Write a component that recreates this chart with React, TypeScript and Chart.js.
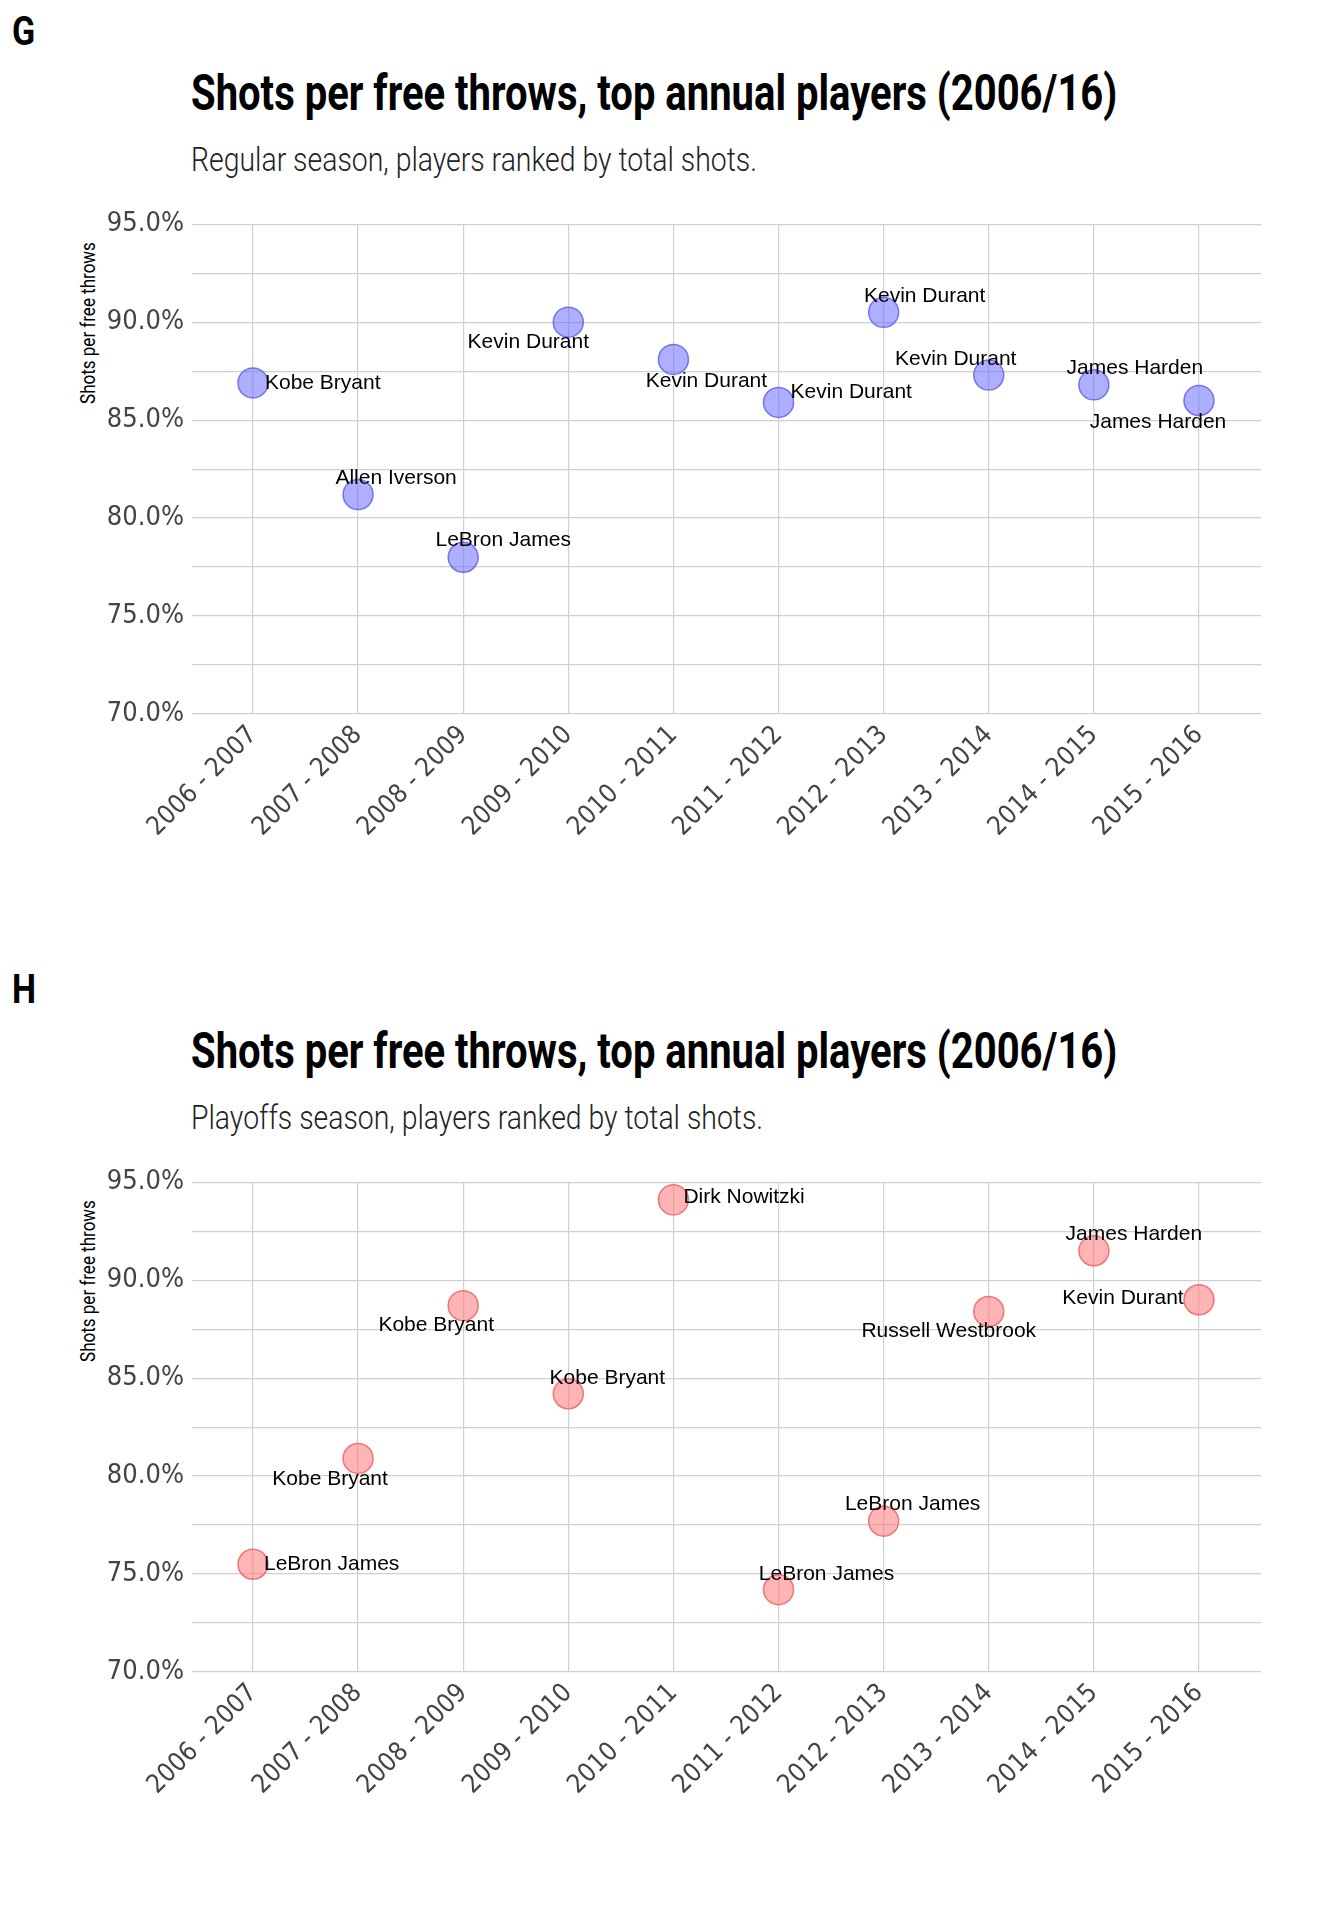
import React, { useEffect, useRef } from "react";
import { Chart, registerables } from "chart.js";
Chart.register(...registerables);

const seasons = ["2006 - 2007","2007 - 2008","2008 - 2009","2009 - 2010","2010 - 2011","2011 - 2012","2012 - 2013","2013 - 2014","2014 - 2015","2015 - 2016"];
const regularValues = [86.9, 81.2, 78.0, 90.0, 88.1, 85.9, 90.5, 87.3, 86.8, 86.0];
const regularPlayers = ["Kobe Bryant","Allen Iverson","LeBron James","Kevin Durant","Kevin Durant","Kevin Durant","Kevin Durant","Kevin Durant","James Harden","James Harden"];
const playoffValues = [75.5, 80.9, 88.7, 84.2, 94.1, 74.2, 77.7, 88.4, 91.5, 89.0];
const playoffPlayers = ["LeBron James","Kobe Bryant","Kobe Bryant","Kobe Bryant","Dirk Nowitzki","LeBron James","LeBron James","Russell Westbrook","James Harden","Kevin Durant"];
const yTicks = [70, 75, 80, 85, 90, 95];

// label placement (style): [dx, dy, align]
const regularLabelPos: [number, number, CanvasTextAlign][] = [
  [12, 0, "left"], [38, -16, "center"], [40, -17, "center"], [-40, 20, "center"], [33, 22, "center"],
  [12, -10, "left"], [41, -16, "center"], [-33, -16, "center"], [41, -17, "center"], [-41, 22, "center"],
];
const playoffLabelPos: [number, number, CanvasTextAlign][] = [
  [11, 0, "left"], [-28, 21, "center"], [-27, 20, "center"], [39, -16, "center"], [10, -3, "left"],
  [48, -16, "center"], [29, -17, "center"], [-40, 20, "center"], [40, -17, "center"], [-76, -2, "center"],
];

const condensed = "'DejaVu Sans Condensed','Roboto',sans-serif";

function Panel(props: { letter: string; subtitle: string; values: number[]; players: string[]; pos: [number, number, CanvasTextAlign][]; fill: string; border: string }) {
  const ref = useRef<HTMLCanvasElement>(null);
  useEffect(() => {
    const labelPlugin = {
      id: "lbl",
      afterDatasetsDraw(chart: any) {
        const ctx = chart.ctx;
        const meta = chart.getDatasetMeta(0);
        ctx.save();
        ctx.font = "21px 'Liberation Sans', Arial, sans-serif";
        ctx.fillStyle = "#000";
        ctx.textBaseline = "middle";
        meta.data.forEach((pt: any, i: number) => {
          const [dx, dy, al] = props.pos[i];
          ctx.textAlign = al;
          ctx.fillText(props.players[i], pt.x + dx, pt.y + dy);
        });
        ctx.restore();
      },
    };
    const chart = new Chart(ref.current!, {
      type: "scatter",
      data: {
        datasets: [{
          data: props.values.map((v, i) => ({ x: i, y: v })),
          backgroundColor: props.fill,
          borderColor: props.border,
          borderWidth: 1.5,
          pointRadius: 15,
          pointHoverRadius: 15,
        }],
      },
      options: {
        animation: false,
        responsive: false,
        layout: { padding: { left: 0, right: 83, top: 24, bottom: 0 } },
        plugins: { legend: { display: false }, tooltip: { enabled: false } },
        scales: {
          x: {
            type: "linear", min: -0.58, max: 9.59,
            afterFit: (s: any) => { s.height = 146; },
            afterBuildTicks: (s: any) => { s.ticks = seasons.map((_, i) => ({ value: i })); },
            ticks: {
              callback: (v: any) => seasons[v] ?? "",
              maxRotation: 45, minRotation: 45, autoSkip: false,
              color: "#444", font: { family: condensed, size: 26 }, padding: 6,
            },
            grid: { color: "#d0d0d0", lineWidth: 1.2, drawTicks: false },
            border: { display: false },
          },
          y: {
            min: 70, max: 95,
            afterFit: (s: any) => { s.width = 192; },
            afterBuildTicks: (s: any) => { s.ticks = [70,72.5,75,77.5,80,82.5,85,87.5,90,92.5,95].map(v => ({ value: v })); },
            ticks: {
              callback: (v: any) => (yTicks.includes(v) ? v.toFixed(1) + "%" : ""),
              color: "#444", font: { family: condensed, size: 27 }, padding: 8,
            },
            grid: { color: "#d0d0d0", lineWidth: 1.2, drawTicks: false },
            border: { display: false },
          },
        },
      },
      plugins: [labelPlugin],
    } as any);
    return () => chart.destroy();
  }, []);
  return (
    <div style={{ position: "relative", width: 1344, height: 958 }}>
      <div style={{ position: "absolute", left: 12, top: 8, fontFamily: "Roboto", fontWeight: 700, fontSize: 40, transform: "scaleX(0.85)", transformOrigin: "left" }}>{props.letter}</div>
      <div style={{ position: "absolute", left: 191, top: 64, fontFamily: "Roboto", fontWeight: 700, fontSize: 50, whiteSpace: "nowrap", transform: "scaleX(0.8)", transformOrigin: "left" }}>Shots per free throws, top annual players (2006/16)</div>
      <div style={{ position: "absolute", left: 191, top: 140, fontFamily: "Roboto", fontWeight: 300, fontSize: 33, color: "#222", whiteSpace: "nowrap", transform: "scaleX(0.86)", transformOrigin: "left" }}>{props.subtitle}</div>
      <div style={{ position: "absolute", left: 88, top: 323, fontFamily: "Roboto", fontSize: 20, whiteSpace: "nowrap", transform: "translate(-50%,-50%) rotate(-90deg) scaleX(0.85)" }}>Shots per free throws</div>
      <canvas ref={ref} width={1344} height={660} style={{ position: "absolute", left: 0, top: 200, width: 1344, height: 660 }} />
    </div>
  );
}

export default function App() {
  return (
    <div style={{ width: 1344, height: 1920, margin: -8, background: "#fff", position: "relative" }}>
      <Panel letter="G" subtitle="Regular season, players ranked by total shots." values={regularValues} players={regularPlayers} pos={regularLabelPos} fill="rgba(110,110,255,0.55)" border="rgba(90,90,240,0.8)" />
      <Panel letter="H" subtitle="Playoffs season, players ranked by total shots." values={playoffValues} players={playoffPlayers} pos={playoffLabelPos} fill="rgba(255,120,120,0.55)" border="rgba(240,90,90,0.8)" />
    </div>
  );
}
